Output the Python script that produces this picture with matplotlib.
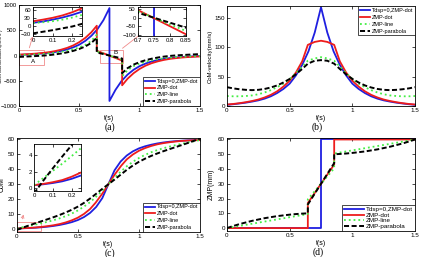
import matplotlib
matplotlib.use('Agg')
import matplotlib.pyplot as plt
from matplotlib.patches import Rectangle

plt.rcParams['font.family'] = ['Liberation Sans', 'DejaVu Sans']
plt.rcParams['font.size'] = 5

# ---------------- data ----------------
labels = ['Tdsp=0,ZMP-dot', 'ZMP-dot', 'ZMP-line', 'ZMP-parabola']

# (a) CoM acceleration
t_a_blue = [0, .05, .1, .15, .2, .25, .3, .35, .4, .45, .5, .55, .6, .65, .7, .75,
            .75, .8, .85, .9, .95, 1.0, 1.05, 1.1, 1.15, 1.2, 1.25, 1.3, 1.35, 1.4, 1.45, 1.5]
acc_blue = [12, 17, 24, 32, 42, 54, 70, 92, 122, 162, 215, 290, 390, 520, 700, 940,
            -900, -680, -505, -378, -282, -210, -158, -118, -89, -67, -51, -39, -30, -22, -16, -12]
t_a_dsp = [0, .05, .1, .15, .2, .25, .3, .35, .4, .45, .5, .55, .6, .645,
           .645, .855, .855, .9, .95, 1.0, 1.05, 1.1, 1.15, 1.2, 1.25, 1.3, 1.35, 1.4, 1.45, 1.5]
acc_red = [18, 24, 31, 40, 52, 67, 88, 116, 152, 200, 265, 350, 460, 590,
           95, -100, -590, -460, -350, -265, -200, -152, -116, -88, -67, -52, -40, -31, -24, -18]
acc_green = [11, 14, 18, 24, 32, 42, 55, 72, 94, 122, 160, 210, 290, 410,
             80, -80, -410, -290, -210, -160, -122, -94, -72, -55, -42, -32, -24, -18, -14, -11]
acc_black = [-28, -22, -16, -9, -2, 8, 22, 40, 63, 92, 130, 180, 250, 350,
             60, -60, -350, -250, -180, -130, -92, -63, -40, -22, -8, 2, 9, 16, 22, 28]

# (b) CoM velocity
t_b_blue = [0, .05, .1, .15, .2, .25, .3, .35, .4, .45, .5, .55, .6, .65, .7, .75,
            .8, .85, .9, .95, 1.0, 1.05, 1.1, 1.15, 1.2, 1.25, 1.3, 1.35, 1.4, 1.45, 1.5]
vel_blue = [2, 3, 4.3, 5.7, 7.5, 9.6, 12.5, 16.5, 22, 29, 38, 52, 70, 93, 125, 168,
            125, 93, 70, 52, 38, 29, 22, 16.5, 12.5, 9.6, 7.5, 5.7, 4.3, 3, 2]
t_b_dsp = [0, .05, .1, .15, .2, .25, .3, .35, .4, .45, .5, .55, .6, .645, .7, .75,
           .8, .855, .9, .95, 1.0, 1.05, 1.1, 1.15, 1.2, 1.25, 1.3, 1.35, 1.4, 1.45, 1.5]
vel_red = [2.5, 3.5, 4.8, 6.5, 8.5, 11, 14.5, 19, 25, 33, 43, 57, 76, 104, 109, 111,
           109, 104, 76, 57, 43, 33, 25, 19, 14.5, 11, 8.5, 6.5, 4.8, 3.5, 2.5]
vel_green = [17, 16.5, 16.5, 17, 18, 20, 23, 27, 32, 38, 46, 56, 67, 77, 81, 83,
             81, 77, 67, 56, 46, 38, 32, 27, 23, 20, 18, 17, 16.5, 16.5, 17]
vel_black = [32, 30, 28.5, 27.5, 27, 27.5, 29, 31.5, 35, 40, 46, 54, 63, 72, 77, 78,
             77, 72, 63, 54, 46, 40, 35, 31.5, 29, 27.5, 27, 27.5, 28.5, 30, 32]

# (c) CoM position
com_blue = [0.4, 0.5, 0.65, 0.85, 1.15, 1.55, 2.05, 2.7, 3.55, 4.6, 6.0, 8.0, 10.8, 14.8, 20.7, 30,
            39.3, 45.2, 49.2, 52.0, 54.0, 55.4, 56.45, 57.3, 57.95, 58.45, 58.85, 59.15, 59.35, 59.5, 59.6]
com_red = [0.4, 0.55, 0.75, 1.0, 1.4, 1.9, 2.5, 3.3, 4.4, 5.8, 7.6, 10.1, 13.4, 17.6, 23.7, 30,
           36.3, 42.4, 46.6, 49.9, 52.4, 54.2, 55.6, 56.7, 57.5, 58.1, 58.6, 59.0, 59.25, 59.45, 59.6]
com_green = [0.4, 1.25, 2.1, 2.95, 3.85, 4.8, 5.9, 7.15, 8.6, 10.35, 12.45, 15.0, 18.0, 21.3, 25.6, 30,
             34.4, 38.7, 42.0, 45.0, 47.55, 49.65, 51.4, 52.85, 54.1, 55.2, 56.15, 57.05, 57.9, 58.75, 59.6]
com_black = [-0.6, 0.95, 2.4, 3.8, 5.15, 6.5, 7.9, 9.4, 11.05, 12.9, 15.0, 17.5, 20.4, 23.3, 26.9, 30,
             33.1, 36.7, 39.6, 42.5, 45.0, 47.1, 48.95, 50.6, 52.1, 53.5, 54.85, 56.2, 57.6, 59.05, 60.6]

# (d) ZMP
t_d_blue = [0, .75, .75, 1.5]
zmp_blue = [0, 0, 60, 60]
t_d_red = [0, .645, .645, .855, .855, 1.5]
zmp_red = [0, 0, 17, 43, 60, 60]
t_d_green = [0, .645, .645, .855, .855, 1.5]
zmp_green = [0, 9.5, 19.5, 40.5, 50.5, 60]
t_d_black = [0, .05, .1, .15, .2, .25, .3, .35, .4, .45, .5, .55, .6, .645,
             .645, .75, .855, .855, .9, .95, 1.0, 1.05, 1.1, 1.15, 1.2, 1.25, 1.3, 1.35, 1.4, 1.45, 1.5]
zmp_black = [0, 1.4, 2.7, 3.8, 4.9, 5.8, 6.7, 7.4, 8.1, 8.6, 9.1, 9.5, 9.8, 10,
             16, 30, 44, 50, 50.2, 50.5, 50.9, 51.4, 51.9, 52.6, 53.3, 54.2, 55.1, 56.2, 57.3, 58.6, 60]

BLUE = '#1f1fe0'
RED = '#ee1c1c'
GREEN = '#44ee44'
PINK = '#f08a8a'


def draw(ax, series):
    (tb, yb), (tr, yr), (tg, yg), (tk, yk) = series
    ax.plot(tb, yb, color=BLUE, lw=1.3)
    ax.plot(tr, yr, color=RED, lw=1.3)
    ax.plot(tg, yg, color=GREEN, lw=1.3, ls=':')
    ax.plot(tk, yk, color='k', lw=1.4, dashes=(2.6, 1.3))


def style(ax, size=4.5):
    ax.tick_params(direction='in', length=2, width=0.5, top=True, right=True,
                   labelsize=size, pad=1.5)
    for s in ax.spines.values():
        s.set_linewidth(0.6)


def legend(ax, loc, size=4, hl=1.9, spacing=0.35):
    leg = ax.legend(labels, loc=loc, fontsize=size, handlelength=hl,
                    borderaxespad=0, fancybox=False, edgecolor='k', framealpha=1,
                    labelspacing=spacing, handletextpad=0.3, borderpad=0.3)
    leg.get_frame().set_linewidth(0.5)


fig = plt.figure(figsize=(4.21, 2.57), dpi=100)

# ---------- (a) ----------
ser_a = [(t_a_blue, acc_blue), (t_a_dsp, acc_red), (t_a_dsp, acc_green), (t_a_dsp, acc_black)]
ax1 = fig.add_axes([0.045, 0.5875, 0.43, 0.393])
draw(ax1, ser_a)
ax1.set_xlim(0, 1.5)
ax1.set_ylim(-1000, 1000)
ax1.set_xticks([0, 0.5, 1, 1.5])
ax1.set_xticklabels(['0', '0.5', '1', '1.5'])
ax1.set_yticks([-1000, -500, 0, 500, 1000])
style(ax1, 4.2)
ax1.set_xlabel('t(s)', fontsize=5)
ax1.xaxis.set_label_coords(0.5, -0.09)
ax1.set_ylabel('CoM-acceleration(mm/s$^2$)', fontsize=3.4)
ax1.yaxis.set_label_coords(-0.074, 0.5)
legend(ax1, 'lower right')
ax1.add_patch(Rectangle((0, -180), 0.21, 280, fill=False, ec=PINK, lw=0.6))
ax1.add_patch(Rectangle((0.67, -150), 0.19, 260, fill=False, ec=PINK, lw=0.6))
ax1.text(0.115, -120, 'A', fontsize=4.5, ha='center', va='center')
ax1.text(0.8, 60, 'B', fontsize=4.5, ha='center', va='center')
ax1.annotate('', xy=(0.12, 430), xytext=(0.08, 100),
             arrowprops=dict(arrowstyle='->', color=PINK, lw=0.6))
ax1.annotate('', xy=(1.05, 500), xytext=(0.84, 110),
             arrowprops=dict(arrowstyle='->', color=PINK, lw=0.6))

ins_a = fig.add_axes([0.0784, 0.860, 0.1164, 0.1128])
draw(ins_a, ser_a)
ins_a.set_xlim(0, 0.25)
ins_a.set_ylim(-38, 72)
ins_a.set_xticks([0, 0.1, 0.2])
ins_a.set_xticklabels(['0', '0.1', '0.2'])
ins_a.set_yticks([-30, 0, 30, 60])
style(ins_a, 4.3)

ins_b = fig.add_axes([0.3278, 0.860, 0.114, 0.1128])
draw(ins_b, ser_a)
ins_b.set_xlim(0.7, 0.85)
ins_b.set_ylim(-105, 62)
ins_b.set_xticks([0.7, 0.75, 0.8, 0.85])
ins_b.set_xticklabels(['0.7', '0.75', '0.8', '0.85'])
ins_b.set_yticks([-100, -50, 0, 50])
style(ins_b, 4.3)

# ---------- (b) ----------
ax2 = fig.add_axes([0.539, 0.5875, 0.447, 0.389])
draw(ax2, [(t_b_blue, vel_blue), (t_b_dsp, vel_red), (t_b_dsp, vel_green), (t_b_dsp, vel_black)])
ax2.set_xlim(0, 1.5)
ax2.set_ylim(0, 170)
ax2.set_xticks([0, 0.5, 1, 1.5])
ax2.set_xticklabels(['0', '0.5', '1', '1.5'])
ax2.set_yticks([0, 50, 100, 150])
style(ax2)
ax2.set_xlabel('t(s)', fontsize=5)
ax2.xaxis.set_label_coords(0.5, -0.09)
ax2.set_ylabel('CoM-velocity(mm/s)', fontsize=4.3)
ax2.yaxis.set_label_coords(-0.075, 0.5)
legend(ax2, 'upper right')

# ---------- (c) ----------
ser_c = [(t_b_blue, com_blue), (t_b_dsp, com_red), (t_b_dsp, com_green), (t_b_dsp, com_black)]
ax3 = fig.add_axes([0.040, 0.0973, 0.435, 0.366])
draw(ax3, ser_c)
ax3.set_xlim(0, 1.5)
ax3.set_ylim(-2, 61)
ax3.set_xticks([0, 0.5, 1, 1.5])
ax3.set_xticklabels(['0', '0.5', '1', '1.5'])
ax3.set_yticks([0, 10, 20, 30, 40, 50, 60])
style(ax3)
ax3.set_xlabel('t(s)', fontsize=5)
ax3.xaxis.set_label_coords(0.5, -0.1)
ax3.set_ylabel('CoM', fontsize=5)
ax3.yaxis.set_label_coords(-0.062, 0.5)
legend(ax3, 'lower right')
ax3.add_patch(Rectangle((0, -1.5), 0.2, 6.5, fill=False, ec=PINK, lw=0.6))
ax3.annotate('', xy=(0.06, 11.5), xytext=(0.04, 5),
             arrowprops=dict(arrowstyle='->', color=PINK, lw=0.6))

ins_c = fig.add_axes([0.0808, 0.2568, 0.1116, 0.183])
draw(ins_c, ser_c)
ins_c.set_xlim(0, 0.25)
ins_c.set_ylim(-0.3, 5.3)
ins_c.set_xticks([0, 0.1, 0.2])
ins_c.set_xticklabels(['0', '0.1', '0.2'])
ins_c.set_yticks([0, 2, 4])
style(ins_c, 4.3)

# ---------- (d) ----------
ax4 = fig.add_axes([0.539, 0.101, 0.447, 0.362])
draw(ax4, [(t_d_blue, zmp_blue), (t_d_red, zmp_red), (t_d_green, zmp_green), (t_d_black, zmp_black)])
ax4.set_xlim(0, 1.5)
ax4.set_ylim(-2, 61)
ax4.set_xticks([0, 0.5, 1, 1.5])
ax4.set_xticklabels(['0', '0.5', '1', '1.5'])
ax4.set_yticks([0, 10, 20, 30, 40, 50, 60])
style(ax4)
ax4.set_xlabel('t(s)', fontsize=5)
ax4.xaxis.set_label_coords(0.5, -0.1)
ax4.set_ylabel('ZMP(mm)', fontsize=5)
ax4.yaxis.set_label_coords(-0.065, 0.5)
legend(ax4, 'lower right', size=4.5, hl=3.2, spacing=0.05)

# captions
for x, y, s in [(110, 127, '(a)'), (317, 127, '(b)'), (110, 253, '(c)'), (318, 252, '(d)')]:
    fig.text(x / 421, 1 - y / 257, s, family='Liberation Serif', fontsize=7,
             ha='center', va='center')

fig.savefig('out.png', dpi=100)
